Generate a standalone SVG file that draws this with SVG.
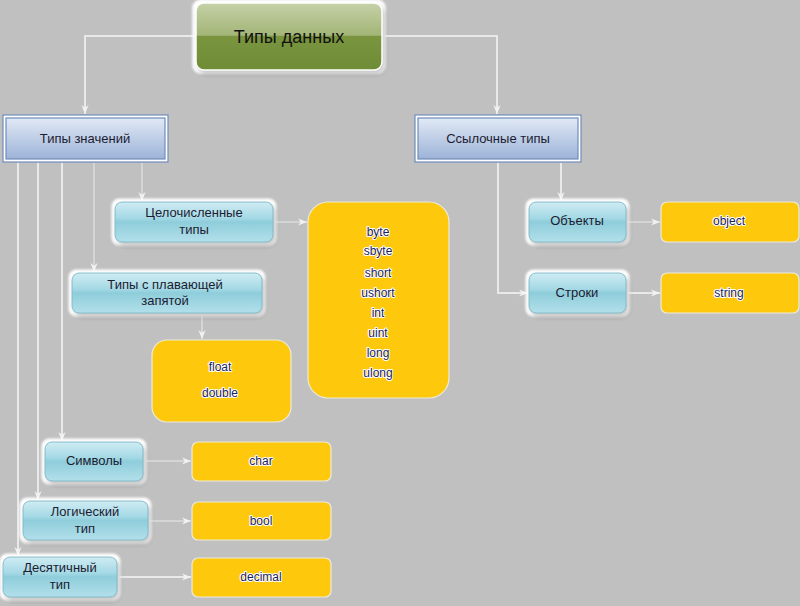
<svg xmlns="http://www.w3.org/2000/svg" width="800" height="606" viewBox="0 0 800 606">
<defs>
  <linearGradient id="gGreen" x1="0" y1="0" x2="0" y2="1">
    <stop offset="0" stop-color="#c6d1a8"/>
    <stop offset="0.48" stop-color="#a3b577"/>
    <stop offset="0.5" stop-color="#7a953f"/>
    <stop offset="1" stop-color="#6f8c36"/>
  </linearGradient>
  <linearGradient id="gBlue" x1="0" y1="0" x2="0" y2="1">
    <stop offset="0" stop-color="#e1e9f5"/>
    <stop offset="1" stop-color="#9cb3d8"/>
  </linearGradient>
  <linearGradient id="gTeal" x1="0" y1="0" x2="0" y2="1">
    <stop offset="0" stop-color="#d0ecf3"/>
    <stop offset="0.4" stop-color="#a4d9e5"/>
    <stop offset="0.5" stop-color="#8fcddb"/>
    <stop offset="1" stop-color="#b2e0ea"/>
  </linearGradient>
  <filter id="glow" x="-15%" y="-30%" width="135%" height="170%">
    <feMorphology in="SourceAlpha" operator="dilate" radius="3" result="d"/>
    <feGaussianBlur in="d" stdDeviation="1.2" result="db"/>
    <feFlood flood-color="#ffffff"/>
    <feComposite in2="db" operator="in" result="white"/>
    <feGaussianBlur in="SourceAlpha" stdDeviation="2" result="sb"/>
    <feOffset in="sb" dx="2" dy="3" result="so"/>
    <feFlood flood-color="#000" flood-opacity="0.45"/>
    <feComposite in2="so" operator="in" result="shadow"/>
    <feMerge><feMergeNode in="white"/><feMergeNode in="shadow"/><feMergeNode in="SourceGraphic"/></feMerge>
  </filter>
  <marker id="arr" viewBox="0 0 10 10" refX="10" refY="5" markerWidth="9" markerHeight="9" markerUnits="userSpaceOnUse" orient="auto">
    <path d="M0,1 L10,5 L0,9 L3,5 Z" fill="#f2f2f2"/>
  </marker>
  <style>
    .bg { fill: #c0c0c0; }
    .conn { fill: none; stroke: #e9e9e9; stroke-width: 2; marker-end: url(#arr); }
    .conn.thin { stroke: #dcdcdc; stroke-width: 1.5; }
    .teal { fill: url(#gTeal); stroke: #7dbccb; stroke-width: 1; filter: url(#glow); }
    .blue-out { fill: #ffffff; stroke: #6f8cba; stroke-width: 1.2; }
    .blue-in { fill: url(#gBlue); stroke: #6f8cba; stroke-width: 1.2; }
    .yel { fill: #fec80c; stroke: #ecebdc; stroke-width: 1.2; }
    .lbl { font-family: "Liberation Sans", Arial, sans-serif; font-size: 13px; fill: #1c1c30; text-anchor: middle; }
    .val { font-family: "Liberation Sans", Arial, sans-serif; font-size: 12px; fill: #1d1d5c; text-anchor: middle; stroke: #ffffff; stroke-width: 2; paint-order: stroke; stroke-linejoin: round; }
    .title { font-family: "Liberation Sans", Arial, sans-serif; font-size: 18px; fill: #111111; text-anchor: middle; }
  </style>
</defs>

<rect class="bg" x="0" y="0" width="800" height="606"/>

<!-- connectors -->
<g id="connectors">
  <path class="conn" d="M196,36 H85 V114"/>
  <path class="conn" d="M382,36 H497 V114"/>
  <path class="conn thin" d="M142,163 V201"/>
  <path class="conn thin" d="M94,163 V272"/>
  <path class="conn" d="M62,163 V441"/>
  <path class="conn" d="M38,163 V500"/>
  <path class="conn" d="M18,163 V556"/>
  <path class="conn thin" d="M202,314 V339"/>
  <path class="conn thin" d="M274,222 H307"/>
  <path class="conn thin" d="M144,461 H191"/>
  <path class="conn thin" d="M149,521 H191"/>
  <path class="conn" d="M118,577 H191"/>
  <path class="conn" d="M561,163 V201"/>
  <path class="conn" d="M498,163 V293 H528"/>
  <path class="conn thin" d="M627,222 H660"/>
  <path class="conn" d="M627,293 H660"/>
</g>

<!-- root -->
<g id="root">
  <rect x="196" y="3" width="186" height="67" rx="8" fill="url(#gGreen)" stroke="#ffffff" stroke-width="1.5" filter="url(#glow)"/>
  <text class="title" x="289" y="43">Типы данных</text>
</g>

<!-- value types -->
<g id="value-types">
  <rect class="blue-out" x="3" y="115" width="165" height="47"/>
  <rect class="blue-in" x="6" y="118" width="159" height="41"/>
  <text class="lbl" x="85" y="143">Типы значений</text>
</g>

<!-- reference types -->
<g id="reference-types">
  <rect class="blue-out" x="415" y="115" width="166" height="47"/>
  <rect class="blue-in" x="418" y="118" width="160" height="41"/>
  <text class="lbl" x="498" y="143">Ссылочные типы</text>
</g>

<g id="integer-types">
  <rect class="teal" x="115" y="202" width="158" height="40" rx="7"/>
  <text class="lbl" x="194" y="217">Целочисленные</text>
  <text class="lbl" x="194" y="234">типы</text>
</g>

<g id="integer-values">
  <rect class="yel" x="308" y="202" width="141" height="196" rx="20"/>
  <text class="val" x="378" y="236">byte</text>
  <text class="val" x="378" y="255">sbyte</text>
  <text class="val" x="378" y="277">short</text>
  <text class="val" x="378" y="297">ushort</text>
  <text class="val" x="378" y="317">int</text>
  <text class="val" x="378" y="337">uint</text>
  <text class="val" x="378" y="357">long</text>
  <text class="val" x="378" y="377">ulong</text>
</g>

<g id="float-types">
  <rect class="teal" x="72" y="273" width="190" height="40" rx="7"/>
  <text class="lbl" x="165" y="289">Типы с плавающей</text>
  <text class="lbl" x="165" y="305">запятой</text>
</g>

<g id="float-values">
  <rect class="yel" x="152" y="340" width="139" height="82" rx="15"/>
  <text class="val" x="220" y="371">float</text>
  <text class="val" x="220" y="397">double</text>
</g>

<g id="char-type">
  <rect class="teal" x="45" y="442" width="98" height="39" rx="7"/>
  <text class="lbl" x="94" y="465">Символы</text>
</g>

<g id="char-value">
  <rect class="yel" x="192" y="442" width="139" height="39" rx="6"/>
  <text class="val" x="261" y="465">char</text>
</g>

<g id="bool-type">
  <rect class="teal" x="23" y="501" width="125" height="39" rx="7"/>
  <text class="lbl" x="85" y="516">Логический</text>
  <text class="lbl" x="85" y="533">тип</text>
</g>

<g id="bool-value">
  <rect class="yel" x="192" y="502" width="139" height="38" rx="6"/>
  <text class="val" x="261" y="525">bool</text>
</g>

<g id="decimal-type">
  <rect class="teal" x="3" y="557" width="114" height="40" rx="7"/>
  <text class="lbl" x="60" y="572">Десятичный</text>
  <text class="lbl" x="60" y="589">тип</text>
</g>

<g id="decimal-value">
  <rect class="yel" x="192" y="558" width="139" height="39" rx="6"/>
  <text class="val" x="261" y="581">decimal</text>
</g>

<g id="objects">
  <rect class="teal" x="529" y="202" width="97" height="40" rx="7"/>
  <text class="lbl" x="577" y="225">Объекты</text>
</g>

<g id="object-value">
  <rect class="yel" x="661" y="202" width="138" height="40" rx="6"/>
  <text class="val" x="729" y="225">object</text>
</g>

<g id="strings">
  <rect class="teal" x="529" y="273" width="97" height="40" rx="7"/>
  <text class="lbl" x="577" y="297">Строки</text>
</g>

<g id="string-value">
  <rect class="yel" x="661" y="273" width="138" height="40" rx="6"/>
  <text class="val" x="729" y="297">string</text>
</g>
</svg>
